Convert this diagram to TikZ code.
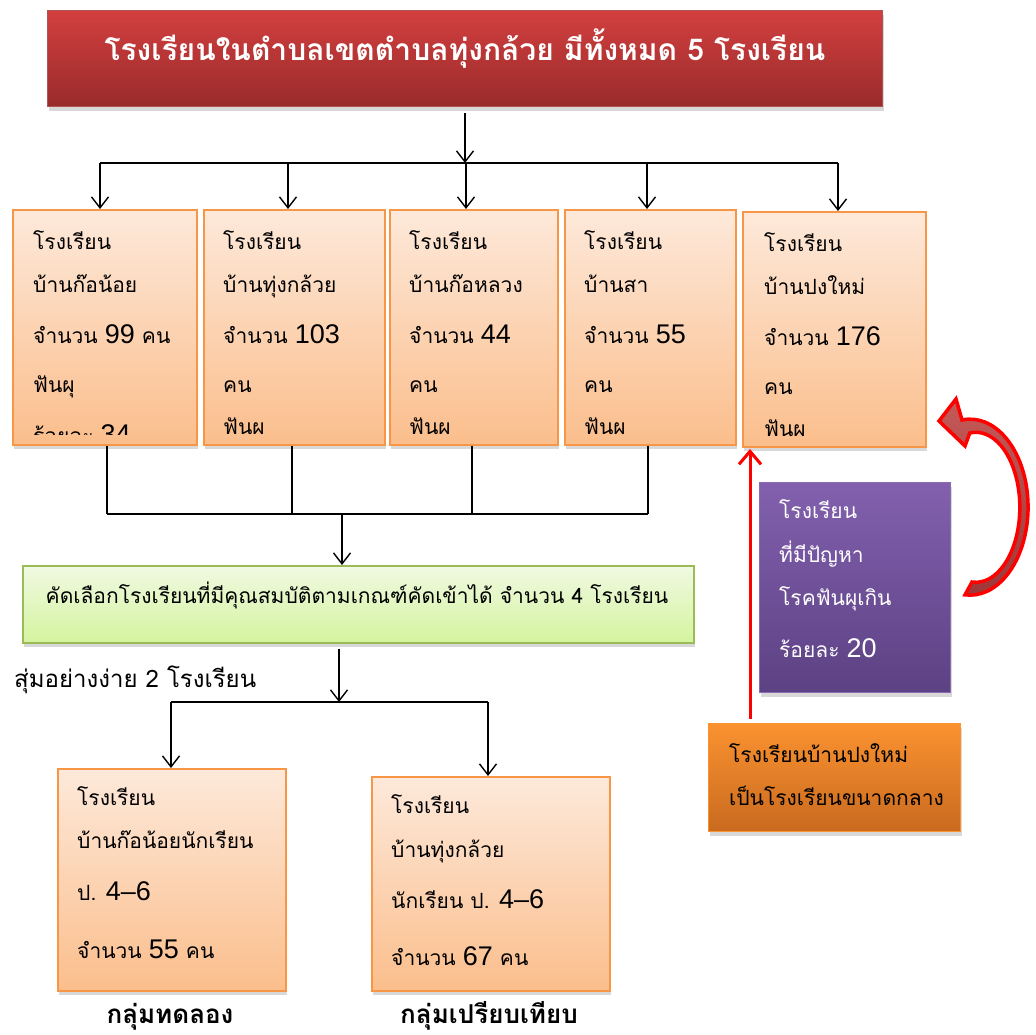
\documentclass[tikz,border=0pt]{standalone}
\usepackage{fontspec}
\newfontfamily\thai[Script=Thai]{Loma}
\newfontfamily\numf{Liberation Sans}
\newcommand{\dg}[1]{{\numf\fontsize{27}{30}\selectfont #1}}
\usetikzlibrary{arrows.meta,shadows}
\definecolor{peachT}{HTML}{FDE9DA}
\definecolor{peachB}{HTML}{FBBE8C}
\definecolor{peachL}{HTML}{F79646}
\definecolor{titleT}{HTML}{D33F3F}
\definecolor{titleB}{HTML}{992B2B}
\definecolor{greenT}{HTML}{F0F9E2}
\definecolor{greenB}{HTML}{D4F49E}
\definecolor{greenL}{HTML}{9BBB59}
\definecolor{purT}{HTML}{8260AE}
\definecolor{purB}{HTML}{5C4183}
\definecolor{purL}{HTML}{8A6BB2}
\definecolor{oraT}{HTML}{FA9230}
\definecolor{oraB}{HTML}{C96A1F}
\definecolor{curvT}{HTML}{C45A58}
\definecolor{curvB}{HTML}{9E3838}
\begin{document}
\begin{tikzpicture}[x=1pt,y=-1pt,
  shad/.style={drop shadow={opacity=0.3, shadow xshift=1pt, shadow yshift=-4pt}},
  box/.style={draw=peachL, line width=1.5pt, top color=peachT, bottom color=peachB, anchor=north west, inner sep=0pt, shad},
  ln/.style={anchor=base west, inner sep=0pt, font=\thai\fontsize{21}{25}\selectfont},
  wln/.style={ln, text=white},
  bline/.style={line width=1.4pt, black},
  conn/.style={bline, -{Straight Barb[length=11pt,width=17pt,line width=1.4pt]}}
]
\fill[white] (0,0) rectangle (1036,1034);
\useasboundingbox (0,0) rectangle (1036,1034);

% title
\node[draw=titleB!80, line width=1pt, top color=titleT, bottom color=titleB, anchor=north west, inner sep=0pt, minimum width=835pt, minimum height=96pt, shad] (title) at (47,10) {};
\node[anchor=base, inner sep=0pt, text=white, font=\thai\bfseries\fontsize{30}{36}\selectfont] (ttext) at (465,60) {โรงเรียนในตำบลเขตตำบลทุ่งกล้วย มีทั้งหมด 5 โรงเรียน};

% five boxes
\node[box, minimum width=184pt, minimum height=235pt] (b1) at (12,209) {};
\node[box, minimum width=181pt, minimum height=235pt] (b2) at (203,209) {};
\node[box, minimum width=168pt, minimum height=235pt] (b3) at (389,209) {};
\node[box, minimum width=171pt, minimum height=235pt] (b4) at (564,209) {};
\node[box, minimum width=183pt, minimum height=235pt] (b5) at (742,211) {};

\begin{scope}
\clip (12,209) rectangle (196,434);
\node[ln] (b1l1) at (33,249) {โรงเรียน};
\node[ln] (b1l2) at (33,292) {บ้านก๊อน้อย};
\node[ln] (b1l3) at (33,343) {จำนวน \dg{99} คน};
\node[ln] (b1l4) at (33,392) {ฟันผุ};
\node[ln] (b1l5) at (33,443) {ร้อยละ \dg{34}};
\end{scope}
\begin{scope}
\clip (203,209) rectangle (384,434);
\node[ln] (b2l1) at (223,249) {โรงเรียน};
\node[ln] (b2l2) at (223,292) {บ้านทุ่งกล้วย};
\node[ln] (b2l3) at (223,343) {จำนวน \dg{103}};
\node[ln] (b2l4) at (223,392) {คน};
\node[ln] (b2l5) at (223,434) {ฟันผุ};
\end{scope}
\begin{scope}
\clip (389,209) rectangle (557,434);
\node[ln] (b3l1) at (409,249) {โรงเรียน};
\node[ln] (b3l2) at (409,292) {บ้านก๊อหลวง};
\node[ln] (b3l3) at (409,343) {จำนวน \dg{44}};
\node[ln] (b3l4) at (409,392) {คน};
\node[ln] (b3l5) at (409,434) {ฟันผุ};
\end{scope}
\begin{scope}
\clip (564,209) rectangle (735,434);
\node[ln] (b4l1) at (584,249) {โรงเรียน};
\node[ln] (b4l2) at (584,292) {บ้านสา};
\node[ln] (b4l3) at (584,343) {จำนวน \dg{55}};
\node[ln] (b4l4) at (584,392) {คน};
\node[ln] (b4l5) at (584,434) {ฟันผุ};
\end{scope}
\begin{scope}
\clip (742,211) rectangle (925,436);
\node[ln] (b5l1) at (764,251) {โรงเรียน};
\node[ln] (b5l2) at (764,294) {บ้านปงใหม่};
\node[ln] (b5l3) at (764,345) {จำนวน \dg{176}};
\node[ln] (b5l4) at (764,394) {คน};
\node[ln] (b5l5) at (764,436) {ฟันผุ};
\end{scope}

% top connectors
\coordinate (bus) at (465,163);
\coordinate (a1) at (100,163);
\coordinate (a2) at (288,163);
\coordinate (a3) at (466,163);
\coordinate (a4) at (647,163);
\coordinate (a5) at (838,163);
\draw[conn] (title.south) ++(0,6) coordinate (ts) (ts) -- (bus);
\draw[bline] (a1) -- (a5);
\draw[conn] (a1) -- (a1 |- b1.north);
\draw[conn] (a2) -- (a2 |- b2.north);
\draw[conn] (a3) -- (a3 |- b3.north);
\draw[conn] (a4) -- (a4 |- b4.north);
\draw[conn] (a5) -- (a5 |- b5.north);

% green box
\node[draw=greenL, line width=1.5pt, top color=greenT, bottom color=greenB, anchor=north west, inner sep=0pt, minimum width=671pt, minimum height=77pt, shad] (green) at (22,565) {};
\node[anchor=base, inner sep=0pt, font=\thai\fontsize{21}{25}\selectfont] (gtext) at (357,603) {คัดเลือกโรงเรียนที่มีคุณสมบัติตามเกณฑ์คัดเข้าได้ จำนวน 4 โรงเรียน};

% lower bus
\coordinate (c1) at (107,514);
\coordinate (c2) at (292,514);
\coordinate (c3) at (472,514);
\coordinate (c4) at (648,514);
\coordinate (cm) at (342,514);
\draw[bline] (c1 |- b1.south) -- (c1);
\draw[bline] (c2 |- b2.south) -- (c2);
\draw[bline] (c3 |- b3.south) -- (c3);
\draw[bline] (c4 |- b4.south) -- (c4);
\draw[bline] (c1) -- (c4);
\draw[conn] (cm) -- (cm |- green.north);

% random selection
\node[anchor=base west, inner sep=0pt, font=\thai\fontsize{24}{28}\selectfont] (rtext) at (14,687) {สุ่มอย่างง่าย 2 โรงเรียน};
\coordinate (sm) at (339,702);
\coordinate (sl) at (171,702);
\coordinate (sr) at (488,702);
\draw[conn] (sm |- green.south) ++(0,5) coordinate (gs) (gs) -- (sm);
\draw[bline] (sl) -- (sr);

% bottom boxes
\node[box, minimum width=228pt, minimum height=222pt] (g1) at (57,768) {};
\node[box, minimum width=238pt, minimum height=214pt] (g2) at (371,776) {};
\draw[conn] (sl) -- (sl |- g1.north);
\draw[conn] (sr) -- (sr |- g2.north);

\node[ln] (g1l1) at (77,805) {โรงเรียน};
\node[ln] (g1l2) at (77,848) {บ้านก๊อน้อยนักเรียน};
\node[ln] (g1l3) at (77,900) {ป. \dg{4–6}};
\node[ln] (g1l4) at (77,958) {จำนวน \dg{55} คน};
\node[ln] (g2l1) at (391,813) {โรงเรียน};
\node[ln] (g2l2) at (391,857) {บ้านทุ่งกล้วย};
\node[ln] (g2l3) at (391,908) {นักเรียน ป. \dg{4–6}};
\node[ln] (g2l4) at (391,965) {จำนวน \dg{67} คน};

\node[anchor=base, inner sep=0pt, font=\thai\bfseries\fontsize{26}{30}\selectfont] (lab1) at (170,1023) {กลุ่มทดลอง};
\node[anchor=base, inner sep=0pt, font=\thai\bfseries\fontsize{26}{30}\selectfont] (lab2) at (489,1023) {กลุ่มเปรียบเทียบ};

% purple box
\node[draw=purL, line width=1pt, top color=purT, bottom color=purB, anchor=north west, inner sep=0pt, minimum width=191pt, minimum height=210pt, shad] (pur) at (759,482) {};
\node[wln] (p1) at (779,518) {โรงเรียน};
\node[wln] (p2) at (779,562) {ที่มีปัญหา};
\node[wln] (p3) at (779,605) {โรคฟันผุเกิน};
\node[wln] (p4) at (779,657) {ร้อยละ \dg{20}};

% orange box
\node[draw=oraT, line width=1pt, top color=oraT, bottom color=oraB, anchor=north west, inner sep=0pt, minimum width=252pt, minimum height=108pt, shad] (ora) at (708,723) {};
\node[ln] (o1) at (729,762) {โรงเรียนบ้านปงใหม่};
\node[ln] (o2) at (729,805) {เป็นโรงเรียนขนาดกลาง};

% red arrow up
\coordinate (ru) at (750,449);
\draw[red, line width=3pt, -{Straight Barb[length=13pt,width=22pt,line width=3pt]}] (ru |- ora.north) ++(0,-4) coordinate (rb) (rb) -- (ru);

% curved block arrow
\path[draw=red, line width=3.5pt, line join=miter, top color=curvT, bottom color=curvB] (972,582)
  arc[start angle=95, end angle=-98, x radius=44, y radius=75]
  -- (965,446) -- (939,421) -- (956,399) -- (962,420)
  arc[start angle=-98, end angle=95, x radius=58, y radius=88] -- cycle;
\end{tikzpicture}
\end{document}
